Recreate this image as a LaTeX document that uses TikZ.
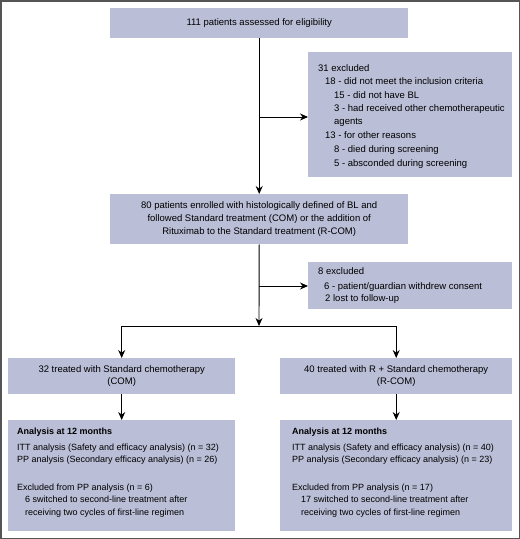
\documentclass[tikz,border=0pt]{standalone}
\usepackage{fontspec}
\setmainfont{Liberation Sans}
\usetikzlibrary{arrows.meta}
\definecolor{boxfill}{RGB}{186,190,214}
\definecolor{framec}{RGB}{85,85,85}
\begin{document}
\begin{tikzpicture}[x=1pt,y=-1pt,
  box/.style={fill=boxfill, inner sep=0pt, font=\fontsize{9.5}{12.5}\selectfont},
  arr/.style={-{Stealth[length=8pt,width=7pt]}, line width=0.9pt, black},
  ln/.style={line width=0.9pt, black}]
\useasboundingbox (0,0) rectangle (520,539);
\draw[framec, line width=1.5pt] (0.75,0.75) rectangle (519.25,538.25);

\node[box, anchor=north west, minimum width=298pt, minimum height=30pt, align=center] (elig) at (110,8)
  {111 patients assessed for eligibility};

\node[box, anchor=north west, minimum width=204pt, minimum height=125pt] (ex1) at (308,52)
  {\begin{minipage}[c][125pt][t]{184pt}\raggedright\fontsize{9.5}{13.6}\selectfont
   \vspace*{12pt}
   \mbox{31 excluded}\\
   \hspace*{7pt}\mbox{18 - did not meet the inclusion criteria}\\
   \hspace*{16pt}\mbox{15 - did not have BL}\\
   \hspace*{16pt}\mbox{3 - had received other chemotherapeutic}\\[-1.2pt]
   \hspace*{16pt}\mbox{agents}\\[1pt]
   \hspace*{7pt}\mbox{13 - for other reasons}\\
   \hspace*{16pt}\mbox{8 - died during screening}\\
   \hspace*{16pt}\mbox{5 - absconded during screening}
   \end{minipage}};

\node[box, anchor=north west, minimum width=298pt, minimum height=50pt, align=center,
  font=\fontsize{9.5}{13.3}\selectfont] (enr) at (110,194)
  {80 patients enrolled with histologically defined of BL and\\
   followed Standard treatment (COM) or the addition of\\
   Rituximab to the Standard treatment (R-COM)};

\node[box, anchor=north west, minimum width=204pt, minimum height=47pt] (ex2) at (308,262)
  {\begin{minipage}{184pt}\raggedright\fontsize{9.5}{13.3}\selectfont
   \mbox{8 excluded}\\[1.5pt]
   \hspace*{6pt}\mbox{6 - patient/guardian withdrew consent}\\[-1.5pt]
   \hspace*{7pt}\mbox{2 lost to follow-up}
   \end{minipage}};

\node[box, anchor=north west, minimum width=227pt, minimum height=36pt, align=center,
  font=\fontsize{9.5}{12}\selectfont] (com) at (8,358)
  {32 treated with Standard chemotherapy\\(COM)};

\node[box, anchor=north west, minimum width=232pt, minimum height=36pt, align=center,
  font=\fontsize{9.5}{12}\selectfont] (rcom) at (280,358)
  {40 treated with R + Standard chemotherapy\\(R-COM)};

\node[box, anchor=north west, minimum width=227pt, minimum height=111pt] (ana1) at (8,420)
  {\hspace*{9pt}\begin{minipage}[c][111pt][t]{218pt}\raggedright\fontsize{9}{12.3}\selectfont
   \vspace*{8pt}
   \mbox{\bfseries Analysis at 12 months}\\[3.4pt]
   \mbox{ITT analysis (Safety and efficacy analysis) (n = 32)}\\
   \mbox{PP analysis (Secondary efficacy analysis) (n = 26)}\\[15.4pt]
   \mbox{Excluded from PP analysis (n = 6)}\\
   \hspace*{8pt}\mbox{6 switched to second-line treatment after}\\
   \hspace*{8pt}\mbox{receiving two cycles of first-line regimen}
   \end{minipage}};

\node[box, anchor=north west, minimum width=232pt, minimum height=111pt] (ana2) at (280,420)
  {\hspace*{12pt}\begin{minipage}[c][111pt][t]{220pt}\raggedright\fontsize{9}{12.3}\selectfont
   \vspace*{8pt}
   \mbox{\bfseries Analysis at 12 months}\\[3.4pt]
   \mbox{ITT analysis (Safety and efficacy analysis) (n = 40)}\\
   \mbox{PP analysis (Secondary efficacy analysis) (n = 23)}\\[15.4pt]
   \mbox{Excluded from PP analysis (n = 17)}\\
   \hspace*{9pt}\mbox{17 switched to second-line treatment after}\\
   \hspace*{9pt}\mbox{receiving two cycles of first-line regimen}
   \end{minipage}};

\coordinate (b1) at (259,117);
\coordinate (b2) at (259,286);
\coordinate (split) at (259,326);

\draw[arr] (elig.south) -- (enr.north);
\draw[arr] (b1) -- (b1 -| ex1.west);
\draw[arr] (enr.south) -- (split);
\draw[arr] (b2) -- (b2 -| ex2.west);
\draw[ln] (com.north |- split) -- (rcom.north |- split);
\draw[arr] (com.north |- split) -- (com.north);
\draw[arr] (rcom.north |- split) -- (rcom.north);
\draw[arr] (com.south) -- (ana1.north);
\draw[arr] (rcom.south) -- (ana2.north);
\end{tikzpicture}
\end{document}
